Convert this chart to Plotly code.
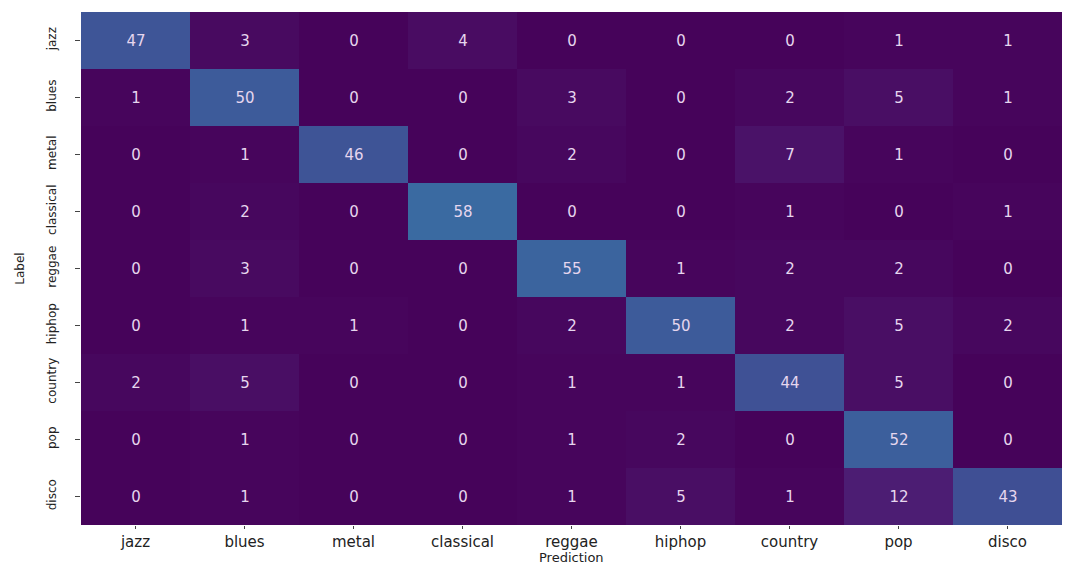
import plotly.graph_objects as go

genres = ["jazz", "blues", "metal", "classical", "reggae", "hiphop", "country", "pop", "disco"]
matrix = [
    [47, 3, 0, 4, 0, 0, 0, 1, 1],
    [1, 50, 0, 0, 3, 0, 2, 5, 1],
    [0, 1, 46, 0, 2, 0, 7, 1, 0],
    [0, 2, 0, 58, 0, 0, 1, 0, 1],
    [0, 3, 0, 0, 55, 1, 2, 2, 0],
    [0, 1, 1, 0, 2, 50, 2, 5, 2],
    [2, 5, 0, 0, 1, 1, 44, 5, 0],
    [0, 1, 0, 0, 1, 2, 0, 52, 0],
    [0, 1, 0, 0, 1, 5, 1, 12, 43],
]
x_title = "Prediction"
y_title = "Label"

colorscale = [
    [0.0, "#46035a"],
    [0.1, "#4a1066"],
    [0.2, "#4c1c72"],
    [0.5, "#443a88"],
    [0.81, "#3e5597"],
    [1.0, "#3a6aa1"],
]

fig = go.Figure(go.Heatmap(
    z=matrix, x=genres, y=genres,
    colorscale=colorscale, zmin=0, zmax=58,
    showscale=False,
    texttemplate="%{z}",
    textfont=dict(family="DejaVu Sans", size=15, color="#e6d6ee"),
))

fig.update_layout(
    width=1070, height=559,
    margin=dict(l=73, r=16, t=4, b=42),
    paper_bgcolor="white", plot_bgcolor="white",
    font=dict(family="DejaVu Sans", size=13, color="#222"),
    annotations=[dict(text=x_title, xref="paper", yref="paper", x=0.5, y=0,
                      xanchor="center", yanchor="top", yshift=-24,
                      showarrow=False, borderpad=0,
                      font=dict(size=13, color="#222"))],
)
fig.update_xaxes(ticks="outside", ticklen=3, tickcolor="#444", showgrid=False,
                 zeroline=False, tickfont=dict(size=15), automargin=False)
fig.update_yaxes(title=dict(text=y_title, standoff=18, font=dict(size=12)),
                 autorange="reversed", tickangle=-90, ticklabelstandoff=14,
                 ticks="outside", ticklen=5, tickcolor="#444", showgrid=False,
                 zeroline=False, tickfont=dict(size=12), automargin=False)

fig.write_html("out.html")
